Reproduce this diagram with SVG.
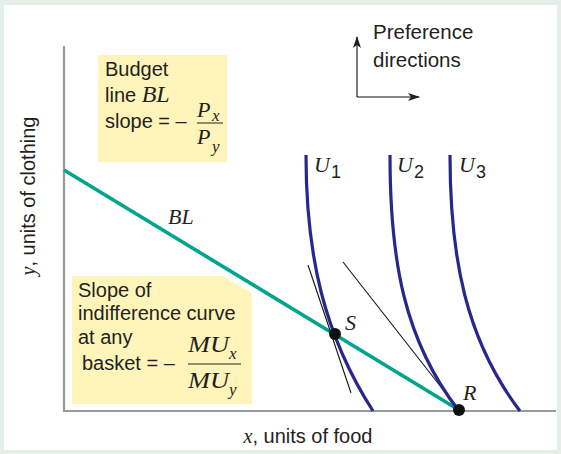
<svg xmlns="http://www.w3.org/2000/svg" width="561" height="454" viewBox="0 0 561 454">
<style>
.sans{font-family:"Liberation Sans",Arial,sans-serif;font-size:20px;fill:#231f20}
.it{font-family:"Liberation Serif","Times New Roman",serif;font-style:italic;font-size:22px;fill:#231f20}
.big{font-size:24px}
.sub{font-family:"Liberation Serif","Times New Roman",serif;font-style:italic;font-size:17px;fill:#231f20}
.num{font-family:"Liberation Sans",Arial,sans-serif;font-size:18px;fill:#231f20}
.box{fill:#fff5bb}
.axis{stroke:#9a9a9a;stroke-width:2.2;fill:none}
.ic{stroke:#27298a;stroke-width:3.2;fill:none}
.thin{stroke:#111;stroke-width:1.1;fill:none}
</style>
<defs>
<marker id="ah" viewBox="0 0 12 8" refX="11" refY="4" markerWidth="12" markerHeight="8" markerUnits="userSpaceOnUse" orient="auto">
<path d="M0,0 L12,4 L0,8 L3,4 Z" fill="#231f20"/>
</marker>
</defs>
<rect x="0" y="0" width="561" height="454" fill="#e4efe8"/>
<rect x="4" y="5" width="553" height="445" fill="#ffffff"/>

<g id="axes">
<line class="axis" x1="64" y1="46" x2="64" y2="411"/>
<line class="axis" x1="63" y1="411" x2="556" y2="411"/>
</g>

<g id="budget-box">
<rect class="box" x="98" y="55" width="129" height="107"/>
<text class="sans" x="105" y="76">Budget</text>
<text class="sans" x="105" y="102">line <tspan class="it big">BL</tspan></text>
<text class="sans" x="105" y="128">slope = –</text>
<text class="it" x="197" y="117">P</text><text class="sub" x="212" y="121">x</text>
<line x1="197" y1="123" x2="223" y2="123" stroke="#231f20" stroke-width="1"/>
<text class="it" x="197" y="144">P</text><text class="sub" x="212" y="152">y</text>
</g>

<g id="slope-box">
<polygon class="box" points="72,276 222,276 252,293 252,404 72,404"/>
<text class="sans" x="78" y="297">Slope of</text>
<text class="sans" x="78" y="320">indifference curve</text>
<text class="sans" x="78" y="344">at any</text>
<text class="sans" x="82" y="370">basket = –</text>
<text class="it big" x="188" y="352" textLength="41" lengthAdjust="spacingAndGlyphs">MU</text><text class="sub" x="229" y="359">x</text>
<line x1="188" y1="364" x2="241" y2="364" stroke="#231f20" stroke-width="1"/>
<text class="it big" x="188" y="388" textLength="41" lengthAdjust="spacingAndGlyphs">MU</text><text class="sub" x="229" y="395">y</text>
</g>

<g id="preference">
<text class="sans" x="373" y="39" style="font-size:20.5px">Preference</text>
<text class="sans" x="373" y="67" style="font-size:20.5px">directions</text>
</g>

<g id="connectors">
<line class="thin" x1="357" y1="97" x2="357" y2="37" marker-end="url(#ah)"/>
<line class="thin" x1="357" y1="97" x2="419" y2="97" marker-end="url(#ah)"/>
<line stroke="#00a58e" stroke-width="3.6" x1="64" y1="170" x2="459" y2="410"/>
<line class="thin" x1="308" y1="265" x2="351" y2="393"/>
<line class="thin" x1="343" y1="262" x2="459" y2="410"/>
</g>

<g id="U1">
<path class="ic" d="M306,155 C306,255 324,335 373,411"/>
<text class="it" x="314" y="172">U</text><text class="num" x="331" y="178">1</text>
</g>
<g id="U2">
<path class="ic" d="M390,155 C390,260 404,340 459,411"/>
<text class="it" x="397" y="172">U</text><text class="num" x="414" y="178">2</text>
</g>
<g id="U3">
<path class="ic" d="M450,155 C450,258 466,340 520,411"/>
<text class="it" x="459" y="172">U</text><text class="num" x="476" y="178">3</text>
</g>

<g id="point-S">
<circle cx="335" cy="334" r="6" fill="#111"/>
<text class="it" x="345" y="330">S</text>
</g>
<g id="point-R">
<circle cx="459" cy="410" r="6" fill="#111"/>
<text class="it" x="463" y="400">R</text>
</g>
<g id="label-BL">
<text class="it" x="168" y="224">BL</text>
</g>

<g id="axis-labels">
<text class="sans" x="308" y="443" text-anchor="middle"><tspan class="it" style="font-size:20px">x</tspan>, units of food</text>
<text class="sans" transform="translate(35,196) rotate(-90)" text-anchor="middle"><tspan class="it" style="font-size:20px">y</tspan>, units of clothing</text>
</g>
</svg>
